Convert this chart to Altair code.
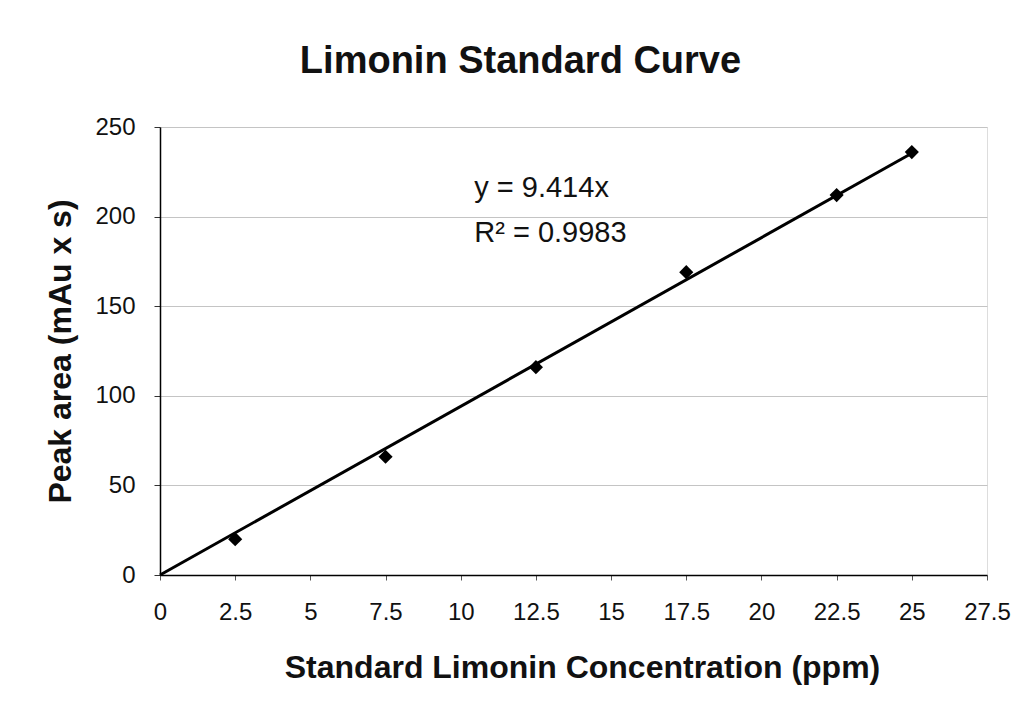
import altair as alt
import pandas as pd

conc = [2.5, 7.5, 12.5, 17.5, 22.5, 25]
area = [20, 66, 116, 169, 212, 236]
slope = 9.414
fit_x = [0, 25]
fit_y = [slope * v for v in fit_x]
ann_x = [10.45, 10.45]
ann_y = [216, 191]
ann_text = ["y = 9.414x", "R\u00b2 = 0.9983"]
x_ticks = [0, 2.5, 5, 7.5, 10, 12.5, 15, 17.5, 20, 22.5, 25, 27.5]
y_ticks = [0, 50, 100, 150, 200, 250]

pts = pd.DataFrame({"x": conc, "y": area})
fit = pd.DataFrame({"x": fit_x, "y": fit_y})
ann = pd.DataFrame({"x": ann_x, "y": ann_y, "t": ann_text})

FONT = "Liberation Sans"

xs = alt.Scale(domain=[0, 27.5], nice=False, zero=True)
ys = alt.Scale(domain=[0, 250], nice=False)

xax = alt.Axis(values=x_ticks, title="Standard Limonin Concentration (ppm)",
               labelFontSize=24, labelPadding=20, tickSize=5, tickColor="#555",
               titleFontSize=32, titleFontWeight="bold", titlePadding=28,
               titleX=422,
               grid=False, domainColor="black", domainWidth=1.5,
               labelFont=FONT, titleFont=FONT, labelColor="#111", titleColor="#111",
               labelExpr="datum.value", labelFlush=False)
yax = alt.Axis(values=y_ticks, title="Peak area (mAu x s)",
               labelFontSize=24, labelPadding=19, tickSize=6, tickColor="#333",
               titleFontSize=32, titleFontWeight="bold", titlePadding=17,
               grid=True, gridColor="#c4c4c4", gridWidth=1,
               domainColor="black", domainWidth=1.5,
               labelFont=FONT, titleFont=FONT, labelColor="#111", titleColor="#111")

line = alt.Chart(fit).mark_line(color="black", strokeWidth=3).encode(
    x=alt.X("x:Q", scale=xs, axis=xax),
    y=alt.Y("y:Q", scale=ys, axis=yax),
)
points = alt.Chart(pts).mark_point(shape="diamond", filled=True, color="black",
                                   size=200, opacity=1).encode(
    x=alt.X("x:Q", scale=xs),
    y=alt.Y("y:Q", scale=ys),
)
text = alt.Chart(ann).mark_text(fontSize=29, font=FONT, color="#111",
                                align="left", baseline="middle").encode(
    x=alt.X("x:Q", scale=xs),
    y=alt.Y("y:Q", scale=ys),
    text="t:N",
)

chart = (line + points + text).properties(
    width=827, height=448,
    title=alt.TitleParams("Limonin Standard Curve", fontSize=38, fontWeight="bold",
                          font=FONT, color="#111", anchor="middle", dx=-53, offset=34),
    autosize=alt.AutoSizeParams(type="none"),
    padding={"left": 152, "top": 119, "right": 30, "bottom": 130},
).configure_view(stroke="black", strokeWidth=1.5).configure(background="white")

chart.save("out.html", embed_options={"renderer": "svg", "actions": False})
